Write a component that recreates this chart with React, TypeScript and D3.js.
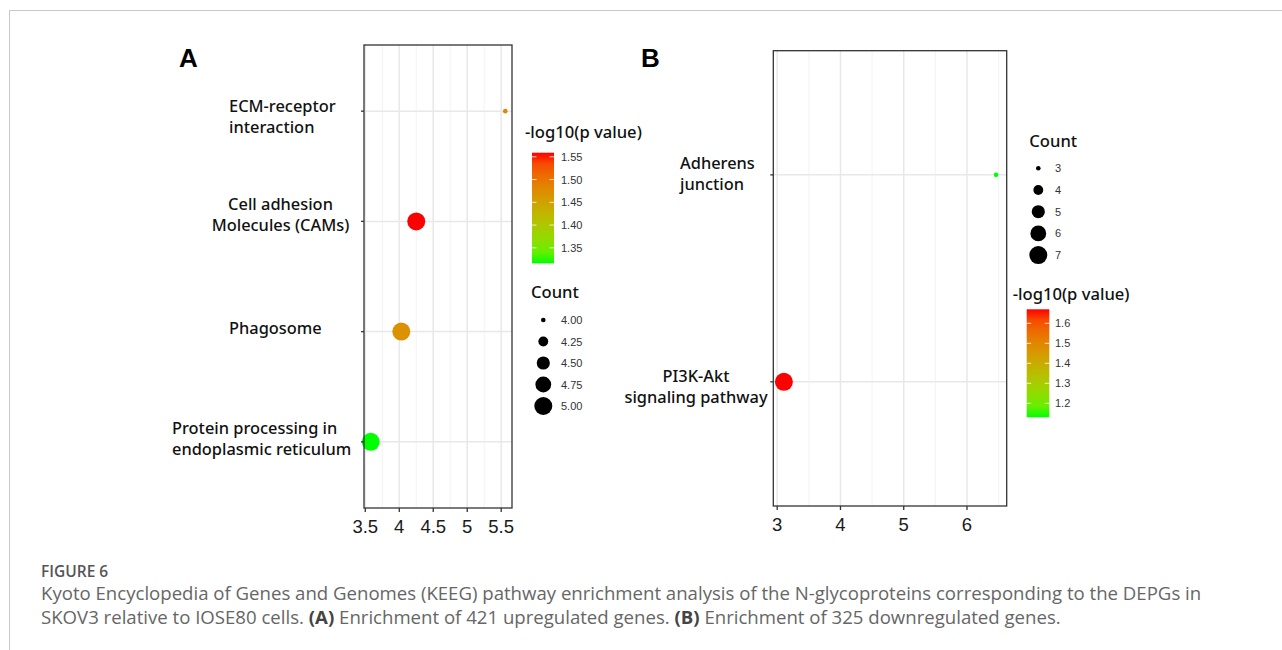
import React from "react";
import * as d3 from "d3";

// ---------- data ----------
const pathwaysA = [
  ["ECM-receptor", "interaction"],
  ["Cell adhesion", "Molecules (CAMs)"],
  ["Phagosome"],
  ["Protein processing in", "endoplasmic reticulum"],
];
const enrichA = [5.56, 4.25, 4.03, 3.58];
const log10pA = [1.48, 1.559, 1.47, 1.316];
const countA = [4, 5, 5, 5];
const xTicksA = [3.5, 4, 4.5, 5, 5.5];
const xMinorA = [3.75, 4.25, 4.75, 5.25];
const colorTicksA = [1.35, 1.4, 1.45, 1.5, 1.55];
const countBreaksA = [4, 4.25, 4.5, 4.75, 5];

const pathwaysB = [
  ["Adherens", "junction"],
  ["PI3K-Akt", "signaling pathway"],
];
const enrichB = [6.46, 3.106];
const log10pB = [1.13, 1.67];
const countB = [3, 7];
const xTicksB = [3, 4, 5, 6];
const xMinorB = [3.5, 4.5, 5.5, 6.5];
const colorTicksB = [1.2, 1.3, 1.4, 1.5, 1.6];
const countBreaksB = [3, 4, 5, 6, 7];

const captionTitle = "FIGURE 6";
const captionLine1 =
  "Kyoto Encyclopedia of Genes and Genomes (KEEG) pathway enrichment analysis of the N-glycoproteins corresponding to the DEPGs in";

// ---------- layout (styles / positions) ----------
const LABEL_FONT = "'Noto Sans', 'DejaVu Sans', sans-serif";
const AXIS_FONT = "'Liberation Sans', Arial, sans-serif";

const panelA = {
  box: { x0: 364, x1: 512, y0: 45, y1: 508 },
  letter: { x: 179, y: 67, text: "A" },
  labels: [
    { anchor: "start", x: 229, dy: [1, 22] },
    { anchor: "middle", x: 280.5, dy: [-11, 10] },
    { anchor: "start", x: 229, dy: [2] },
    { anchor: "start", x: 172, dy: [-7.5, 13.5] },
  ],
  colorLegend: { titleX: 525, titleY: 138, barX: 532, barW: 22, barY0: 152.7, barY1: 263.3, labelX: 561, digits: ".2f" },
  sizeLegend: { titleX: 531, titleY: 297.7, cx: 543.3, y0: 320, step: 21.5, labelX: 561, fmt: ".2f" },
};
const panelB = {
  box: { x0: 773.3, x1: 1006.7, y0: 50.7, y1: 506 },
  letter: { x: 641, y: 67, text: "B" },
  labels: [
    { anchor: "start", x: 680, dy: [-5.4, 15.6] },
    { anchor: "middle", x: 696, dy: [0.4, 21.4] },
  ],
  colorLegend: { titleX: 1012.7, titleY: 300, barX: 1026.7, barW: 22.6, barY0: 309.3, barY1: 417.3, labelX: 1055, digits: ".1f" },
  sizeLegend: { titleX: 1029.3, titleY: 146.7, cx: 1038.3, y0: 168.3, step: 21.7, labelX: 1055, fmt: "d" },
};

const LOW = "#00ff00";
const HIGH = "#ff0000";

function Panel({ cfg, names, xv, pv, cv, xTicks, xMinor, cTicks, cBreaks, id }: any) {
  const { box } = cfg;
  const n = names.length;
  const [xmin, xmax] = d3.extent(xv) as [number, number];
  const pad = (xmax - xmin) * 0.05;
  const x = d3.scaleLinear().domain([xmin - pad, xmax + pad]).range([box.x0, box.x1]);
  const y = d3.scaleLinear().domain([0.4, n + 0.6]).range([box.y0, box.y1]);
  const pExt = d3.extent(pv) as [number, number];
  const cNorm = d3.scaleLinear().domain(pExt).range([0, 1]);
  const interp = d3.interpolateLab(LOW, HIGH);
  const color = (v: number) => interp(cNorm(v));
  const cExt = d3.extent(cv) as [number, number];
  const rMin = 2.3, rMax = 9;
  const area = d3.scaleLinear().domain(cExt).range([rMin * rMin, rMax * rMax]);
  const r = (v: number) => Math.sqrt(area(v));
  const cl = cfg.colorLegend;
  const barScale = d3.scaleLinear().domain(pExt).range([cl.barY1, cl.barY0]);
  const sl = cfg.sizeLegend;
  const fmt = d3.format(sl.fmt);
  const cfmt = d3.format(cl.digits);
  const stops = d3.range(0, 1.0001, 0.1);
  const yc = (i: number) => y(i + 1);

  return (
    <g>
      <defs>
        <linearGradient id={id} x1="0" y1="1" x2="0" y2="0">
          {stops.map((t) => (
            <stop key={t} offset={t} stopColor={interp(t)} />
          ))}
        </linearGradient>
      </defs>
      <text x={cfg.letter.x} y={cfg.letter.y} fontFamily={AXIS_FONT} fontWeight="bold" fontSize={26} fill="#000">
        {cfg.letter.text}
      </text>
      {xMinor.map((t: number) => (
        <line key={"mn" + t} x1={x(t)} x2={x(t)} y1={box.y0} y2={box.y1} stroke="#f3f3f3" strokeWidth={1} />
      ))}
      {xTicks.map((t: number) => (
        <line key={"mj" + t} x1={x(t)} x2={x(t)} y1={box.y0} y2={box.y1} stroke="#e8e8e8" strokeWidth={1.5} />
      ))}
      {names.map((_: any, i: number) => (
        <line key={"h" + i} x1={box.x0} x2={box.x1} y1={yc(i)} y2={yc(i)} stroke="#e8e8e8" strokeWidth={1.5} />
      ))}
      {names.map((_: any, i: number) => (
        <circle key={"p" + i} cx={x(xv[i])} cy={yc(i)} r={r(cv[i])} fill={color(pv[i])} />
      ))}
      <rect x={box.x0} y={box.y0} width={box.x1 - box.x0} height={box.y1 - box.y0} fill="none" stroke="#333" strokeWidth={1.3} />
      {names.map((lines: string[], i: number) => {
        const L = cfg.labels[i];
        return (
          <g key={"yl" + i}>
            <line x1={box.x0 - 3} x2={box.x0} y1={yc(i)} y2={yc(i)} stroke="#333" strokeWidth={1.3} />
            {lines.map((s, k) => (
              <text
                key={k}
                x={L.x}
                y={yc(i) + L.dy[k]}
                textAnchor={L.anchor}
                fontFamily={LABEL_FONT}
                fontWeight={500}
                fontSize={16.4}
                fill="#111"
              >
                {s}
              </text>
            ))}
          </g>
        );
      })}
      {xTicks.map((t: number) => (
        <g key={"xt" + t}>
          <line x1={x(t)} x2={x(t)} y1={box.y1} y2={box.y1 + 4} stroke="#333" strokeWidth={1.3} />
          <text x={x(t)} y={box.y1 + 25} textAnchor="middle" fontFamily={AXIS_FONT} fontSize={18.5} fill="#1a1a1a">
            {String(t)}
          </text>
        </g>
      ))}
      <text x={cl.titleX} y={cl.titleY} fontFamily={LABEL_FONT} fontWeight={500} fontSize={16.6} fill="#111">
        -log10(p value)
      </text>
      <rect x={cl.barX} y={cl.barY0} width={cl.barW} height={cl.barY1 - cl.barY0} fill={`url(#${id})`} />
      {cTicks.map((t: number) => (
        <g key={"ct" + t}>
          <line x1={cl.barX} x2={cl.barX + 4.5} y1={barScale(t)} y2={barScale(t)} stroke="#fff" strokeWidth={0.8} />
          <line x1={cl.barX + cl.barW - 4.5} x2={cl.barX + cl.barW} y1={barScale(t)} y2={barScale(t)} stroke="#fff" strokeWidth={0.8} />
          <text x={cl.labelX} y={barScale(t) + 4} fontFamily={AXIS_FONT} fontSize={11} fill="#333">
            {cfmt(t)}
          </text>
        </g>
      ))}
      <text x={sl.titleX} y={sl.titleY} fontFamily={LABEL_FONT} fontWeight={500} fontSize={16.6} fill="#111">
        Count
      </text>
      {cBreaks.map((b: number, k: number) => (
        <g key={"sb" + b}>
          <circle cx={sl.cx} cy={sl.y0 + k * sl.step} r={r(b)} fill="#000" />
          <text x={sl.labelX} y={sl.y0 + k * sl.step + 4} fontFamily={AXIS_FONT} fontSize={11} fill="#333">
            {fmt(b)}
          </text>
        </g>
      ))}
    </g>
  );
}

export default function App() {
  return (
    <svg width={1282} height={650} style={{ position: "absolute", left: 0, top: 0, background: "#fff" }}>
      <rect x={0} y={0} width={1282} height={650} fill="#fff" />
      <line x1={9} x2={1282} y1={10.5} y2={10.5} stroke="#c8c8c8" strokeWidth={1} />
      <line x1={9.5} x2={9.5} y1={10} y2={650} stroke="#c8c8c8" strokeWidth={1} />
      <Panel
        id="gradA"
        cfg={panelA}
        names={pathwaysA}
        xv={enrichA}
        pv={log10pA}
        cv={countA}
        xTicks={xTicksA}
        xMinor={xMinorA}
        cTicks={colorTicksA}
        cBreaks={countBreaksA}
      />
      <Panel
        id="gradB"
        cfg={panelB}
        names={pathwaysB}
        xv={enrichB}
        pv={log10pB}
        cv={countB}
        xTicks={xTicksB}
        xMinor={xMinorB}
        cTicks={colorTicksB}
        cBreaks={countBreaksB}
      />
      <g fontFamily="'Open Sans', 'Noto Sans', sans-serif" fill="#666">
        <text x={41} y={577} fontSize={15.5} fontWeight={600} fill="#555">
          {captionTitle}
        </text>
        <text x={41} y={600} fontSize={18.6}>
          {captionLine1}
        </text>
        <text x={41} y={624} fontSize={18.6}>
          SKOV3 relative to IOSE80 cells. <tspan fontWeight={700} fill="#444">(A)</tspan> Enrichment of 421 upregulated genes.{" "}
          <tspan fontWeight={700} fill="#444">(B)</tspan> Enrichment of 325 downregulated genes.
        </text>
      </g>
    </svg>
  );
}
